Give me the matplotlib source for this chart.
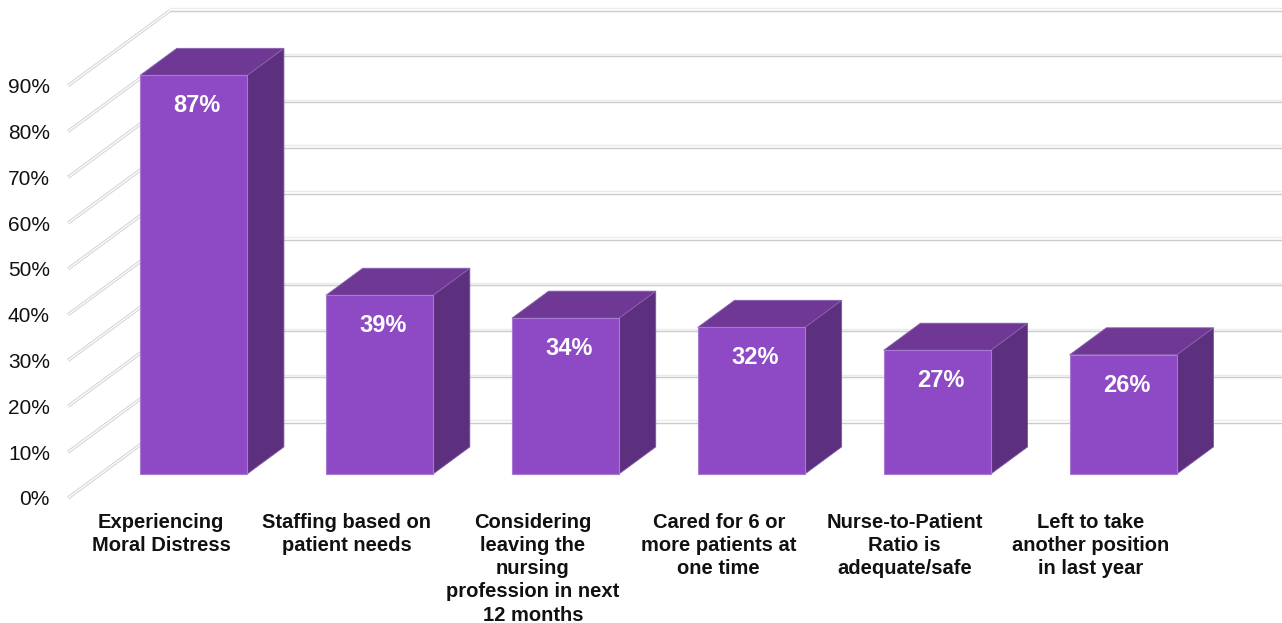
import numpy as np
import matplotlib
matplotlib.use("Agg")
import matplotlib.pyplot as plt
from matplotlib.patches import Polygon

plt.rcParams['font.family'] = ['Liberation Sans', 'DejaVu Sans']

# Survey results
categories = [
    "Experiencing\nMoral Distress",
    "Staffing based on\npatient needs",
    "Considering\nleaving the\nnursing\nprofession in next\n12 months",
    "Cared for 6 or\nmore patients at\none time",
    "Nurse-to-Patient\nRatio is\nadequate/safe",
    "Left to take\nanother position\nin last year",
]
values = [87, 39, 34, 32, 27, 26]
y_ticks = [0, 10, 20, 30, 40, 50, 60, 70, 80, 90]
y_tick_labels = [f"{t}%" for t in y_ticks]

# colours for the three visible faces of each column
FRONT = "#8E4AC5"
TOP = "#6F3895"
SIDE = "#5C307F"
EDGE = "#A679D2"

# oblique projection: how far one unit of depth moves a point
DEPTH_DX = 0.549   # in category units
DEPTH_DY = 16.4    # in percent units
Z_FRONT, Z_BACK = 0.32, 0.68
HALF_W = 0.288


def project(x, y, z):
    return (x + DEPTH_DX * z, y + DEPTH_DY * z)


fig = plt.figure(figsize=(12.82, 6.23), dpi=100)
ax = fig.add_axes([68 / 1282, 118 / 623, 1 - 68 / 1282, 505 / 623])
ax.set_xlim(-0.5, 6.03)
ax.set_ylim(-1.53, 108.7)
for s in ax.spines.values():
    s.set_visible(False)

# side wall diagonals and back wall gridlines
x_right = ax.get_xlim()[1]
for t in y_ticks:
    bx, by = project(-0.5, t, 1.0)
    ax.plot([-0.5, bx], [t, by], color="#d4d4d4", lw=2.4,
            solid_capstyle="butt", zorder=1, clip_on=False)
    ax.plot([-0.5, bx], [t, by], color="white", lw=0.9,
            solid_capstyle="butt", zorder=1.1, clip_on=False)
    ax.plot([bx, x_right], [by + 0.55, by + 0.55], color="#ebebeb", lw=1.0, zorder=1)
    ax.plot([bx, x_right], [by, by], color="#cbcbcb", lw=1.0, zorder=1)

# 3D columns
for i, v in enumerate(values):
    x0, x1 = i - HALF_W, i + HALF_W
    front = [project(x0, 0, Z_FRONT), project(x1, 0, Z_FRONT),
             project(x1, v, Z_FRONT), project(x0, v, Z_FRONT)]
    top = [project(x0, v, Z_FRONT), project(x1, v, Z_FRONT),
           project(x1, v, Z_BACK), project(x0, v, Z_BACK)]
    side = [project(x1, 0, Z_FRONT), project(x1, 0, Z_BACK),
            project(x1, v, Z_BACK), project(x1, v, Z_FRONT)]
    ax.add_patch(Polygon(side, closed=True, facecolor=SIDE, edgecolor="#7c55a0",
                         lw=0.6, zorder=3))
    ax.add_patch(Polygon(top, closed=True, facecolor=TOP, edgecolor="#8a63ad",
                         lw=0.6, zorder=3))
    ax.add_patch(Polygon(front, closed=True, facecolor=FRONT, edgecolor=EDGE,
                         lw=0.8, zorder=4))
    # value label sits just under the top edge of the front face
    cx, cy = project(i + 0.02, v - 6.6, Z_FRONT)
    ax.text(cx, cy, f"{v}%", ha="center", va="center", color="white",
            fontsize=17, fontweight="bold", zorder=5)

ax.set_yticks(y_ticks)
ax.set_yticklabels(y_tick_labels, fontsize=15, color="#111111")
ax.set_xticks(range(len(categories)))
ax.set_xticklabels(categories, fontsize=14.5, fontweight="bold", color="#111111",
                   linespacing=1.27)
ax.tick_params(axis="y", length=0, pad=13)
ax.tick_params(axis="x", length=0, pad=6)

fig.savefig("out.png", dpi=100, facecolor="white")
